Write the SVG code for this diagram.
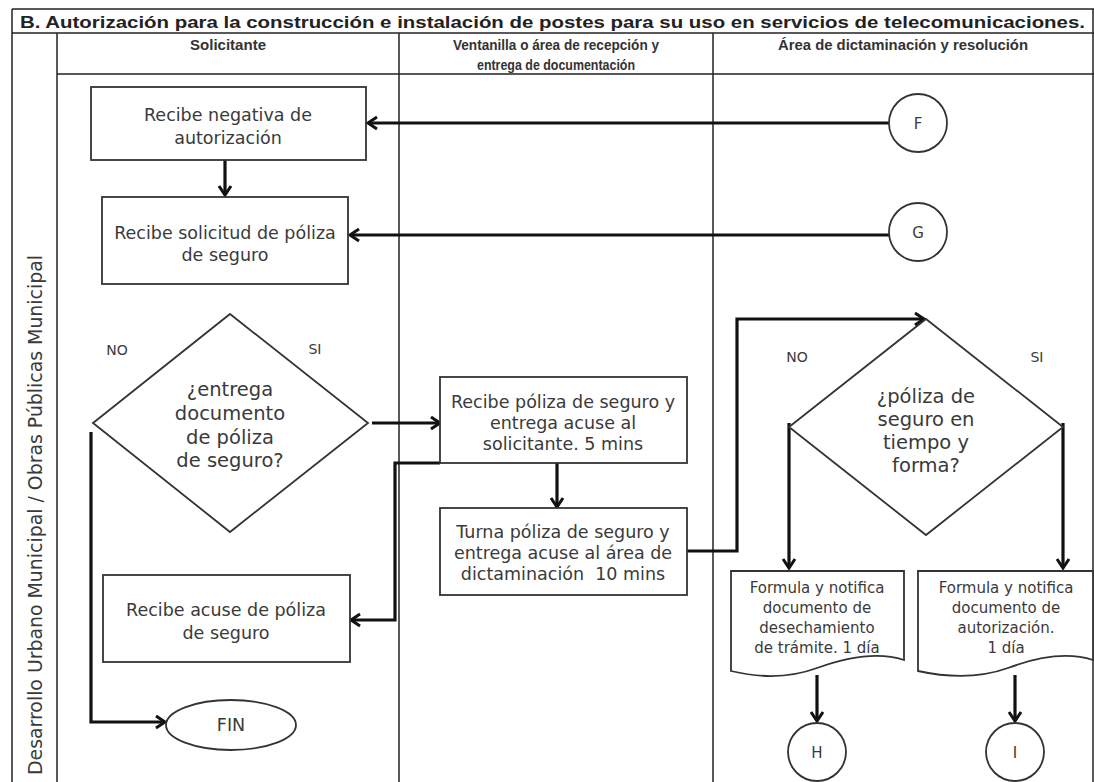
<svg xmlns="http://www.w3.org/2000/svg" width="1094" height="782" viewBox="0 0 1094 782">
<style>
.frame{stroke:#222;stroke-width:1.5;fill:none}
.box{fill:#fff;stroke:#333;stroke-width:1.8}
.txt{font-family:"DejaVu Sans","Liberation Sans",sans-serif;font-size:17.5px;fill:#3a3a3a;text-anchor:middle}
.small{font-size:15px}
.dia{font-size:19.5px}
.lab{font-size:14px}
.hdr{font-family:"Liberation Sans Narrow","Liberation Sans",sans-serif;font-size:15px;font-weight:bold;fill:#333;text-anchor:middle}
.title{font-family:"Liberation Sans",sans-serif;font-size:17px;font-weight:bold;fill:#222}
.con{fill:none;stroke:#111;stroke-width:3.2}
</style>
<defs>
<marker id="ah" markerUnits="userSpaceOnUse" markerWidth="16" markerHeight="16" viewBox="0 0 16 16" refX="13" refY="8" orient="auto">
<path d="M4,2 L13,8 L4,14" fill="none" stroke="#111" stroke-width="3"/>
</marker>
</defs>
<rect width="1094" height="782" fill="#fff"/>
<g id="frame">
<line class="frame" x1="12" y1="9" x2="1094" y2="9"/>
<line class="frame" x1="12" y1="9" x2="12" y2="782"/>
<line class="frame" x1="12" y1="33" x2="1094" y2="33"/>
<line class="frame" x1="57" y1="33" x2="57" y2="782"/>
<line class="frame" x1="57" y1="74" x2="1094" y2="74"/>
<line class="frame" x1="399" y1="33" x2="399" y2="782"/>
<line class="frame" x1="713" y1="33" x2="713" y2="782"/>
<line class="frame" x1="1093" y1="9" x2="1093" y2="782"/>
<text class="title" x="20" y="28" textLength="1065" lengthAdjust="spacingAndGlyphs">B. Autorización para la construcción e instalación de postes para su uso en servicios de telecomunicaciones.</text>
<text class="hdr" x="228" y="50" textLength="76" lengthAdjust="spacingAndGlyphs">Solicitante</text>
<text class="hdr" x="556" y="50" textLength="206" lengthAdjust="spacingAndGlyphs">Ventanilla o área de recepción y</text>
<text class="hdr" x="556" y="70" textLength="158" lengthAdjust="spacingAndGlyphs">entrega de documentación</text>
<text class="hdr" x="903" y="50" textLength="250" lengthAdjust="spacingAndGlyphs">Área de dictaminación y resolución</text>
<text class="txt" transform="translate(42,515) rotate(-90)" style="font-size:20px" textLength="520" lengthAdjust="spacingAndGlyphs">Desarrollo Urbano Municipal / Obras Públicas Municipal</text>
</g>
<g id="connectors">
<line class="con" x1="889" y1="123" x2="368" y2="123" marker-end="url(#ah)"/>
<line class="con" x1="225" y1="160" x2="225" y2="195" marker-end="url(#ah)"/>
<line class="con" x1="889" y1="235" x2="350" y2="235" marker-end="url(#ah)"/>
<line class="con" x1="372" y1="423" x2="440" y2="423" marker-end="url(#ah)"/>
<line class="con" x1="557" y1="463" x2="557" y2="507" marker-end="url(#ah)"/>
<polyline class="con" points="440,463 395,463 395,620 351,620" marker-end="url(#ah)"/>
<polyline class="con" points="91,432 91,722 165,722" marker-end="url(#ah)"/>
<polyline class="con" points="687,551 737,551 737,319 924,319" marker-end="url(#ah)"/>
<line class="con" x1="789" y1="423" x2="789" y2="568" marker-end="url(#ah)"/>
<line class="con" x1="1063" y1="423" x2="1063" y2="568" marker-end="url(#ah)"/>
<line class="con" x1="817" y1="675" x2="817" y2="721" marker-end="url(#ah)"/>
<line class="con" x1="1015" y1="675" x2="1015" y2="721" marker-end="url(#ah)"/>
</g>
<g id="n-negativa">
<rect class="box" x="91" y="87" width="275" height="73"/>
<text class="txt" x="228" y="121">Recibe negativa de</text>
<text class="txt" x="228" y="144">autorización</text>
</g>
<g id="n-solicitud">
<rect class="box" x="102" y="197" width="246" height="87"/>
<text class="txt" x="225" y="239">Recibe solicitud de póliza</text>
<text class="txt" x="225" y="261">de seguro</text>
</g>
<g id="n-F">
<circle class="box" cx="918" cy="123" r="29"/>
<text class="txt" x="918" y="129" style="font-size:15px">F</text>
</g>
<g id="n-G">
<circle class="box" cx="918" cy="232" r="29"/>
<text class="txt" x="918" y="238" style="font-size:15px">G</text>
</g>
<g id="n-d1">
<polygon class="box" points="230,314 368,423 230,532 93,423"/>
<text class="txt dia" x="230" y="396">¿entrega</text>
<text class="txt dia" x="230" y="420">documento</text>
<text class="txt dia" x="230" y="444">de póliza</text>
<text class="txt dia" x="230" y="467">de seguro?</text>
<text class="txt lab" x="117" y="355">NO</text>
<text class="txt lab" x="315" y="354">SI</text>
</g>
<g id="n-recibe-poliza">
<rect class="box" x="440" y="377" width="247" height="86"/>
<text class="txt" x="563" y="408">Recibe póliza de seguro y</text>
<text class="txt" x="563" y="429">entrega acuse al</text>
<text class="txt" x="563" y="450">solicitante. 5 mins</text>
</g>
<g id="n-turna">
<rect class="box" x="440" y="508" width="247" height="87"/>
<text class="txt" x="563" y="538">Turna póliza de seguro y</text>
<text class="txt" x="563" y="559">entrega acuse al área de</text>
<text class="txt" x="563" y="580" xml:space="preserve">dictaminación  10 mins</text>
</g>
<g id="n-acuse">
<rect class="box" x="103" y="575" width="247" height="87"/>
<text class="txt" x="226" y="616">Recibe acuse de póliza</text>
<text class="txt" x="226" y="639">de seguro</text>
</g>
<g id="n-fin">
<ellipse class="box" cx="231" cy="725" rx="65" ry="25"/>
<text class="txt" x="231" y="731">FIN</text>
</g>
<g id="n-d2">
<polygon class="box" points="926,319 1063,427 926,535 789,427"/>
<text class="txt dia" x="926" y="403">¿póliza de</text>
<text class="txt dia" x="926" y="426">seguro en</text>
<text class="txt dia" x="926" y="449">tiempo y</text>
<text class="txt dia" x="926" y="472">forma?</text>
<text class="txt lab" x="797" y="362">NO</text>
<text class="txt lab" x="1037" y="362">SI</text>
</g>
<g id="n-doc1">
<path class="box" d="M731,571 H904 V660 C880,652 850,656 817,668 C790,678 760,678 731,671 Z"/>
<text class="txt small" x="817" y="593">Formula y notifica</text>
<text class="txt small" x="817" y="613">documento de</text>
<text class="txt small" x="817" y="633">desechamiento</text>
<text class="txt small" x="817" y="653">de trámite. 1 día</text>
</g>
<g id="n-doc2">
<path class="box" d="M918,571 H1093 V660 C1068,652 1040,656 1008,668 C980,678 950,678 918,671 Z"/>
<text class="txt small" x="1006" y="593">Formula y notifica</text>
<text class="txt small" x="1006" y="613">documento de</text>
<text class="txt small" x="1006" y="633">autorización.</text>
<text class="txt small" x="1006" y="653">1 día</text>
</g>
<g id="n-H">
<circle class="box" cx="817" cy="752" r="29"/>
<text class="txt" x="817" y="758" style="font-size:15px">H</text>
</g>
<g id="n-I">
<circle class="box" cx="1015" cy="752" r="29"/>
<text class="txt" x="1015" y="758" style="font-size:15px">I</text>
</g>
</svg>
